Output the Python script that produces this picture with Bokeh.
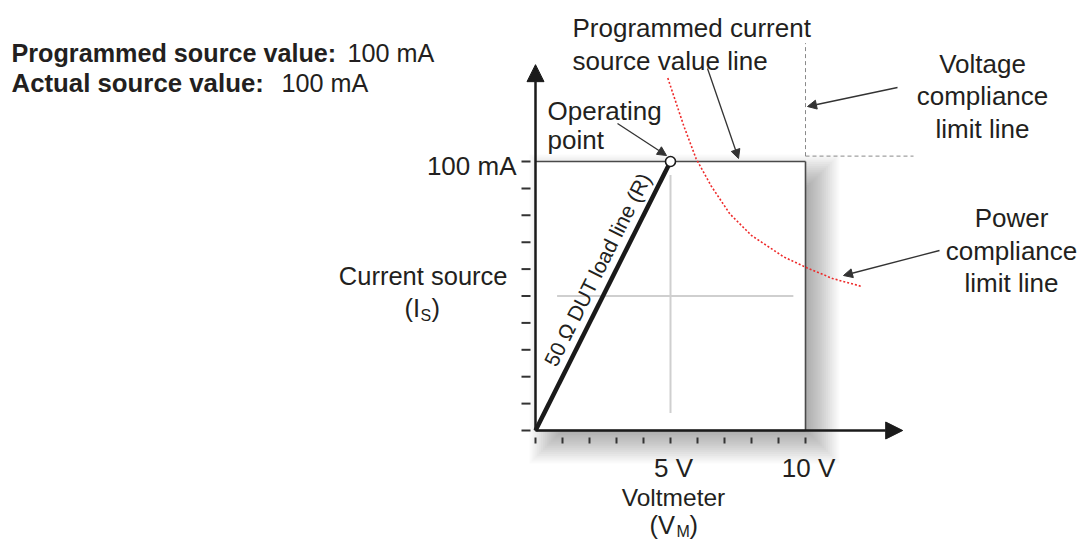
import math
from bokeh.plotting import figure
from bokeh.models import Range1d, Label, Arrow, NormalHead
from bokeh.embed import file_html
from bokeh.resources import INLINE

# ---------------- data ----------------
volt_ticks = [0, 1, 2, 3, 4, 5, 6, 7, 8, 9, 10]
current_ticks = [0, 10, 20, 30, 40, 50, 60, 70, 80, 90, 100]
volt_tick_labels = ["5 V", "10 V"]
volt_tick_label_values = [5, 10]
current_tick_labels = ["100 mA"]
current_tick_label_values = [100]

box_v = [0, 10]
box_i = [0, 100]
load_v = [0, 5]          # 50 ohm DUT load line
load_i = [0, 100]
op_v = [5]               # operating point
op_i = [100]
programmed_i = 100       # programmed current source value (mA)
voltage_limit = 10       # voltage compliance (V)
voltage_limit_i = [102, 144]
voltage_limit_v_end = 14
power_v = [4.9, 5.5, 5.95, 6.5, 7.2, 8.0, 9.2, 10.05, 11.0, 12.1]
power_i = [131, 113, 101, 91, 80.5, 72.5, 64.5, 60.5, 56.5, 53.5]
cross_v = [0.8, 9.55]    # grey cross hairs
cross_i = [6.5, 95]
x_axis_end = 13.6
y_axis_end = 136

# ---------------- pixel helpers ----------------
W, H = 1085, 541
PX0, PY0 = 535.0, 430.0   # picture pixel of origin
PPV, PPI = 27.0, 2.69     # pixels per volt / per mA


def vx(px):
    return (px - PX0) / PPV


def iy(py):
    return (PY0 - py) / PPI


TXT = "#231f20"
FONT = "Liberation Sans"

p = figure(width=W, height=H, x_range=Range1d(vx(0), vx(W)),
           y_range=Range1d(iy(H), iy(0)), output_backend="svg",
           toolbar_location=None, min_border=0)
p.axis.visible = False
p.grid.visible = False
p.outline_line_color = None
p.background_fill_color = "white"
p.border_fill_color = "white"

# ---------------- drop shadow ----------------
bx0, bx1 = PX0 + box_v[0] * PPV, PX0 + box_v[1] * PPV
by0, by1 = PY0 - box_i[1] * PPI, PY0 - box_i[0] * PPI
N, B, OX, OY = 22, 20, 14, 13
ls, rs, ts, bs = [], [], [], []
for k in range(N):
    e = -B + 2 * B * k / (N - 1)
    ls.append(vx(bx0 + OX - e)); rs.append(vx(bx1 + OX + e))
    ts.append(iy(by0 + OY - e)); bs.append(iy(by1 + OY + e))
p.quad(left=ls, right=rs, top=ts, bottom=bs, fill_color="black",
       fill_alpha=0.018, line_color=None)

# white box
p.quad(left=[box_v[0]], right=[box_v[1]], bottom=[box_i[0]], top=[box_i[1]],
       fill_color="white", line_color=None)

# grey cross hairs
p.segment(x0=[op_v[0], cross_v[0]], y0=[cross_i[0], 50],
          x1=[op_v[0], cross_v[1]], y1=[cross_i[1], 50],
          line_color="#cfcfcf", line_width=2)

# box edges
p.segment(x0=[box_v[0], box_v[1], box_v[0]], y0=[programmed_i, box_i[0], box_i[0]],
          x1=[box_v[1], box_v[1], box_v[1]], y1=[programmed_i, box_i[1], box_i[0]],
          line_color="#4a4a4a", line_width=1.6)

# voltage compliance dashed lines
p.segment(x0=[voltage_limit, voltage_limit], y0=[voltage_limit_i[0], voltage_limit_i[0]],
          x1=[voltage_limit, voltage_limit_v_end], y1=[voltage_limit_i[1], voltage_limit_i[0]],
          line_color="#8a8a8a", line_width=1, line_dash="4 3")

# power compliance curve
p.line(power_v, power_i, line_color="#ee2a2a", line_width=1.6, line_dash="2 2",
       line_join="round")

# load line
p.line(load_v, load_i, line_color="#1a1a1a", line_width=4.5)

# axes
head = dict(size=17, fill_color="#1a1a1a", line_color="#1a1a1a")
p.add_layout(Arrow(x_start=0, y_start=0, x_end=x_axis_end, y_end=0,
                   line_color="#1a1a1a", line_width=2.5, end=NormalHead(**head)))
p.add_layout(Arrow(x_start=0, y_start=0, x_end=0, y_end=y_axis_end,
                   line_color="#1a1a1a", line_width=2.5, end=NormalHead(**head)))

# ticks
p.segment(x0=[vx(521)] * len(current_ticks), x1=[vx(530)] * len(current_ticks),
          y0=current_ticks, y1=current_ticks, line_color="#333333", line_width=2)
p.segment(x0=volt_ticks, x1=volt_ticks, y0=[iy(437)] * len(volt_ticks),
          y1=[iy(443)] * len(volt_ticks), line_color="#333333", line_width=2)

# operating point
p.scatter(op_v, op_i, size=10, fill_color="white", line_color="#1a1a1a", line_width=1.6)


# pointer arrows
def pointer(x0, y0, x1, y1):
    p.add_layout(Arrow(x_start=vx(x0), y_start=iy(y0), x_end=vx(x1), y_end=iy(y1),
                       line_color="#333333", line_width=1.3,
                       end=NormalHead(size=9, fill_color="#333333", line_color="#333333")))


pointer(617, 123, 666, 155)
pointer(707, 68, 738, 158)
pointer(897, 87, 807, 106)
pointer(939, 250, 843, 275)


# texts
def lab(px, py, text, size=25.5, align="left", bold=False, angle=0.0, baseline="alphabetic"):
    p.add_layout(Label(x=vx(px), y=iy(py), text=text, text_font=FONT,
                       text_font_size=f"{size}px", text_align=align,
                       text_baseline=baseline, text_color=TXT, angle=angle,
                       text_font_style="bold" if bold else "normal"))


lab(11, 52, "Programmed source value:", 25.2, bold=True)
lab(347, 52, "100 mA", 25.2)
lab(11, 82, "Actual source value:", 25.8, bold=True)
lab(281, 82, "100 mA", 25.2)

lab(572, 27, "Programmed current", 26)
lab(572, 60, "source value line", 26)
lab(547, 110, "Operating", 26)
lab(547, 139, "point", 26)

lab(982, 63, "Voltage", 26, align="center")
lab(982, 95, "compliance", 26, align="center")
lab(982, 128, "limit line", 26, align="center")

lab(1011, 217, "Power", 26, align="center")
lab(1011, 250, "compliance", 26, align="center")
lab(1011, 282, "limit line", 26, align="center")

for t, v in zip(current_tick_labels, current_tick_label_values):
    lab(516, PY0 - v * PPI + 4, t, 26, align="right")
lab(507, 275, "Current source", align="right")
lab(404, 307, "(I")
lab(420, 315, "S", 16)
lab(431, 307, ")")

for t, v in zip(volt_tick_labels, volt_tick_label_values):
    lab(PX0 + v * PPV + 3, 467, t, 26, align="center")
lab(673, 497, "Voltmeter", 24.5, align="center")
lab(649, 524, "(V")
lab(676, 531, "M", 16)
lab(689, 524, ")")

lab(597, 269, "50 \u03a9 DUT load line (R)", 21, align="center", baseline="middle",
    angle=math.atan2(269, 135))

open("out.html", "w").write(file_html(p, INLINE))
